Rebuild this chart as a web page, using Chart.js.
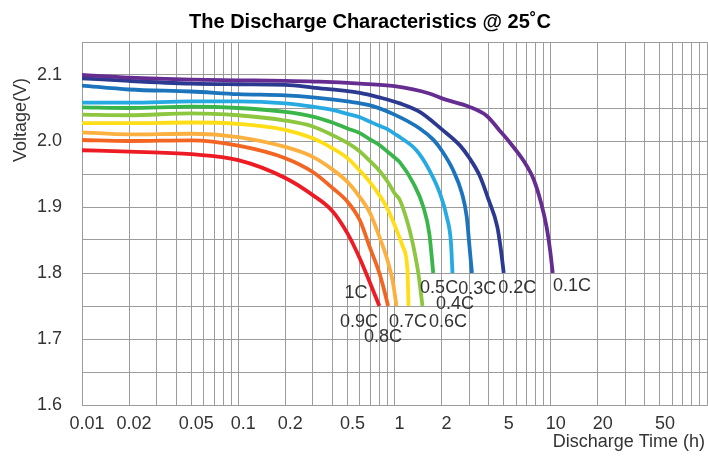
<!DOCTYPE html>
<html>
<head>
<meta charset="utf-8">
<script src="https://cdn.jsdelivr.net/npm/chart.js@4.4.1/dist/chart.umd.min.js"></script>
<style>
  html, body { margin: 0; padding: 0; background: #fff; }
  #chart { display: block; }
</style>
</head>
<body>
<canvas id="chart" width="708" height="457"></canvas>
<script>
// --- Data ---
const rateNames = ['0.1C', '0.2C', '0.3C', '0.4C', '0.5C', '0.6C', '0.7C', '0.8C', '0.9C', '1C'];
const rateColors = ['#662d91', '#2b3990', '#1c75bc', '#27aae1', '#39b54a', '#8dc63f', '#ffde17', '#fbb040', '#f26522', '#ed1c24'];

// discharge time (h) / voltage (V) per rate
const h01 = [0.01, 0.02, 0.05, 0.1, 0.2, 0.33, 0.6, 1.0, 1.67, 2.1, 3.0, 3.9, 4.7, 5.5, 6.7, 7.8, 8.7, 9.4, 9.9, 10.3];
const v01 = [2.100, 2.096, 2.093, 2.092, 2.091, 2.090, 2.087, 2.083, 2.072, 2.063, 2.052, 2.038, 2.016, 1.997, 1.970, 1.941, 1.905, 1.870, 1.835, 1.800];
const h02 = [0.01, 0.02, 0.05, 0.1, 0.2, 0.3, 0.6, 0.8, 1.08, 1.45, 2.0, 2.63, 3.0, 3.5, 4.0, 4.55, 4.8, 5.0];
const v02 = [2.095, 2.091, 2.087, 2.086, 2.085, 2.081, 2.073, 2.066, 2.057, 2.044, 2.018, 1.993, 1.975, 1.948, 1.911, 1.870, 1.835, 1.800];
const h03 = [0.01, 0.02, 0.05, 0.1, 0.2, 0.3, 0.5, 0.7, 1.0, 1.45, 1.77, 2.0, 2.37, 2.7, 2.9, 3.02, 3.13];
const v03 = [2.084, 2.078, 2.075, 2.071, 2.069, 2.066, 2.060, 2.054, 2.040, 2.019, 2.002, 1.986, 1.956, 1.921, 1.885, 1.840, 1.800];
const h04 = [0.01, 0.02, 0.05, 0.1, 0.2, 0.3, 0.4, 0.5, 0.6, 0.7, 0.8, 0.9, 1.0, 1.08, 1.38, 1.67, 1.95, 2.16, 2.3, 2.35];
const v04 = [2.058, 2.058, 2.060, 2.060, 2.057, 2.052, 2.047, 2.041, 2.036, 2.029, 2.023, 2.018, 2.011, 2.006, 1.986, 1.956, 1.921, 1.885, 1.845, 1.800];
const h05 = [0.01, 0.02, 0.05, 0.1, 0.2, 0.3, 0.4, 0.5, 0.6, 0.7, 0.8, 0.9, 1.0, 1.08, 1.32, 1.53, 1.67, 1.77];
const v05 = [2.051, 2.050, 2.052, 2.050, 2.044, 2.037, 2.028, 2.019, 2.012, 2.002, 1.994, 1.984, 1.975, 1.968, 1.936, 1.900, 1.860, 1.800];
const h06 = [0.01, 0.02, 0.05, 0.1, 0.2, 0.3, 0.4, 0.5, 0.6, 0.7, 0.8, 0.9, 1.0, 1.08, 1.2, 1.3, 1.42, 1.51];
const v06 = [2.040, 2.039, 2.042, 2.039, 2.031, 2.022, 2.009, 1.997, 1.984, 1.969, 1.955, 1.939, 1.921, 1.911, 1.880, 1.848, 1.800, 1.750];
const h07 = [0.01, 0.02, 0.05, 0.1, 0.2, 0.3, 0.4, 0.5, 0.6, 0.7, 0.8, 0.9, 1.0, 1.13, 1.21, 1.23];
const v07 = [2.027, 2.027, 2.028, 2.026, 2.017, 2.004, 1.989, 1.974, 1.955, 1.937, 1.918, 1.898, 1.873, 1.840, 1.805, 1.750];
const h08 = [0.01, 0.02, 0.05, 0.1, 0.2, 0.3, 0.4, 0.5, 0.6, 0.7, 0.8, 0.9, 0.98, 1.03];
const v08 = [2.013, 2.010, 2.011, 2.006, 1.991, 1.976, 1.957, 1.938, 1.915, 1.890, 1.855, 1.820, 1.784, 1.750];
const h09 = [0.01, 0.02, 0.05, 0.1, 0.2, 0.3, 0.4, 0.5, 0.6, 0.7, 0.8, 0.87, 0.91];
const v09 = [2.0015, 2.000, 2.001, 1.993, 1.974, 1.953, 1.929, 1.908, 1.880, 1.837, 1.800, 1.769, 1.750];
const h10 = [0.01, 0.02, 0.05, 0.1, 0.2, 0.3, 0.4, 0.5, 0.6, 0.7, 0.8];
const v10 = [1.986, 1.984, 1.980, 1.971, 1.944, 1.918, 1.894, 1.860, 1.822, 1.784, 1.750];

const hours = [h01, h02, h03, h04, h05, h06, h07, h08, h09, h10];
const volts = [v01, v02, v03, v04, v05, v06, v07, v08, v09, v10];

// where each rate name sits (h, V)
const labelHours = [13.7, 6.1, 3.38, 2.44, 1.93, 2.2, 1.22, 0.844, 0.592, 0.567];
const labelVolts = [1.780, 1.777, 1.776, 1.753, 1.777, 1.726, 1.726, 1.703, 1.726, 1.770];

// tick labels
const xTickLabels = [0.01, 0.02, 0.05, 0.1, 0.2, 0.5, 1, 2, 5, 10, 20, 50];
const yTickLabels = [1.6, 1.7, 1.8, 1.9, 2.0, 2.1];

const chartTitle = 'The Discharge Characteristics @ 25˚C';
const xTitle = 'Discharge Time (h)';
const yTitle = 'Voltage(V)';

// --- Chart ---
const FONT = '"Liberation Sans", Arial, sans-serif';
const GRID = '#9c9c9c';

// log grid: 1..9 x each decade, plus the closing 100
const xGrid = [];
for (let k = -2; k <= 1; k++) {
  for (let n = 1; n <= 9; n++) xGrid.push(Number((n * Math.pow(10, k)).toPrecision(3)));
}
xGrid.push(100);

const textPlugin = {
  id: 'texts',
  afterDraw(chart) {
    const { ctx, scales: { x, y } } = chart;
    ctx.save();
    ctx.fillStyle = '#333';
    ctx.font = '18px ' + FONT;
    ctx.textAlign = 'center';
    ctx.textBaseline = 'middle';
    rateNames.forEach((t, i) => {
      ctx.fillText(t, x.getPixelForValue(labelHours[i]), y.getPixelForValue(labelVolts[i]));
    });

    ctx.fillStyle = '#000';
    ctx.font = 'bold 20px ' + FONT;
    ctx.textBaseline = 'alphabetic';
    ctx.fillText(chartTitle, 370, 28);

    ctx.fillStyle = '#333';
    ctx.font = '18px ' + FONT;
    ctx.textAlign = 'right';
    ctx.fillText(xTitle, 705, 447);

    ctx.translate(21, 120);
    ctx.rotate(-Math.PI / 2);
    ctx.textAlign = 'center';
    ctx.textBaseline = 'middle';
    ctx.fillText(yTitle, 0, 0);
    ctx.restore();
  }
};

new Chart(document.getElementById('chart'), {
  type: 'line',
  data: {
    datasets: rateNames.map((name, i) => ({
      label: name,
      data: hours[i].map((h, j) => ({ x: h, y: volts[i][j] })),
      borderColor: rateColors[i],
      borderWidth: 3.8,
      pointRadius: 0,
      fill: false,
      cubicInterpolationMode: 'monotone'
    }))
  },
  options: {
    responsive: false,
    animation: false,
    devicePixelRatio: 1,
    layout: { padding: { top: 42, right: 1, left: 0, bottom: 0 } },
    plugins: { legend: { display: false }, tooltip: { enabled: false }, title: { display: false } },
    scales: {
      x: {
        type: 'logarithmic',
        min: 0.01,
        max: 100,
        afterFit(scale) { scale.height = 52; scale.paddingLeft = 0; scale.paddingRight = 0; },
        afterBuildTicks(scale) { scale.ticks = xGrid.map(v => ({ value: v })); },
        grid: { color: GRID, lineWidth: 1, drawTicks: false },
        border: { color: GRID },
        ticks: {
          autoSkip: false,
          maxRotation: 0,
          padding: 8,
          labelOffset: 5,
          color: '#333',
          font: { family: FONT, size: 18 },
          callback: v => xTickLabels.some(t => Math.abs(t - v) < 1e-9) ? String(v) : ''
        }
      },
      y: {
        min: 1.6,
        max: 2.15,
        afterFit(scale) { scale.width = 82; scale.paddingTop = 0; scale.paddingBottom = 0; },
        grid: { color: GRID, lineWidth: 1, drawTicks: false },
        border: { color: GRID },
        ticks: {
          stepSize: 0.05,
          padding: 20,
          color: '#333',
          font: { family: FONT, size: 18 },
          callback: v => yTickLabels.some(t => Math.abs(t - v) < 1e-6) ? v.toFixed(1) : ''
        }
      }
    }
  },
  plugins: [textPlugin]
});
</script>
</body>
</html>
